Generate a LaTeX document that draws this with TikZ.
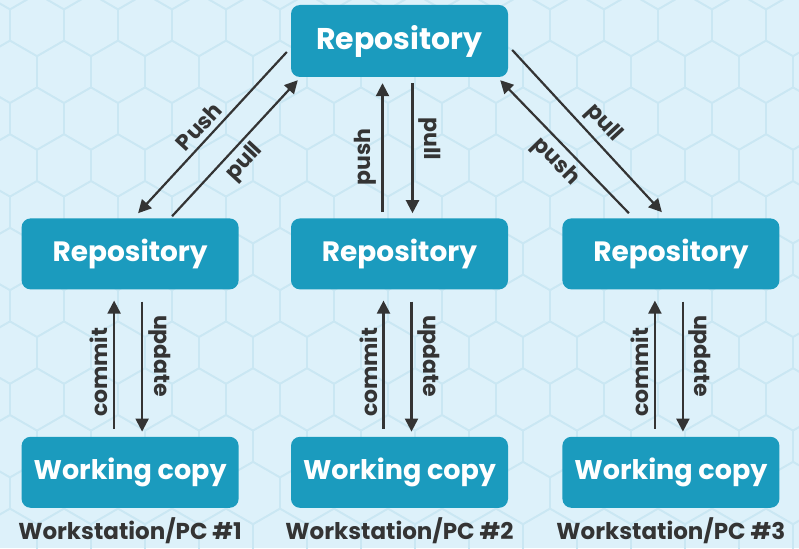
\documentclass[tikz,border=0pt]{standalone}
\usepackage{fontspec}
\setmainfont{Poppins}
\usetikzlibrary{arrows.meta,positioning}
\definecolor{boxteal}{RGB}{27,155,190}
\definecolor{bgblue}{RGB}{221,241,250}
\definecolor{hexline}{RGB}{202,231,243}
\definecolor{inkgray}{RGB}{52,52,52}
\tikzset{repo/.style={rectangle, rounded corners=9pt, fill=boxteal, text=white, minimum width=217pt, minimum height=71pt, font=\bfseries\fontsize{28}{30}\selectfont},
  flow/.style={draw=inkgray, line width=2.2pt, -{Triangle[width=13pt,length=13pt]}},
  lbl/.style={text=inkgray, inner sep=5pt, font=\bfseries\fontsize{22}{24}\selectfont},
  pclabel/.style={text=inkgray, inner sep=0pt, font=\bfseries\fontsize{23}{25}\selectfont},
  hexgrid/.style={draw=hexline, line width=1.6pt}}

\begin{document}
\begin{tikzpicture}[x=1pt, y=-1pt, node distance=147pt]
    \useasboundingbox (0,0) rectangle (799,548);
    \fill[bgblue] (0,0) rectangle (799,548);
    % honeycomb
    \begin{scope}
        \clip (0,0) rectangle (799,548);
        \foreach \j in {-1,...,12}
            \foreach \k in {-1,...,15}{
                \pgfmathsetmacro{\cx}{37+54*\k+27*mod(\j,2)}
                \pgfmathsetmacro{\cy}{25+46.8*\j}
                \draw[hexgrid] (\cx,\cy) +(30:31.2) -- +(90:31.2) -- +(150:31.2) -- +(210:31.2) -- +(270:31.2) -- +(330:31.2) -- cycle;
            }
    \end{scope}

    \node[repo, font=\bfseries\fontsize{30}{32}\selectfont, minimum height=72pt] (server) at (399.5,41) {Repository};

    \node[repo, below=141pt of server] (repoB) {Repository};
    \node[repo, left=52pt of repoB] (repoA) {Repository};
    \node[repo, right=54pt of repoB] (repoC) {Repository};

    \node[repo, below=147pt of repoA, font=\bfseries\fontsize{27}{29}\selectfont] (copyA) {Working copy};
    \node[repo, below=147pt of repoB, font=\bfseries\fontsize{27}{29}\selectfont] (copyB) {Working copy};
    \node[repo, below=147pt of repoC, font=\bfseries\fontsize{27}{29}\selectfont] (copyC) {Working copy};

    \node[pclabel, below=9pt of copyA] (pcA) {Workstation/PC \#1};
    \node[pclabel, below=9pt of copyB] (pcB) {Workstation/PC \#2};
    \node[pclabel, below=9pt of copyC] (pcC) {Workstation/PC \#3};

    \draw[flow] ([shift={(-4,11)}]server.west) -- ([shift={(8,-5)}]repoA.north) node[pos=0.52, sloped, above, lbl]{Push};
    \draw[flow] ([shift={(42,-2)}]repoA.north) -- ([shift={(7,3)}]server.south west) node[pos=0.48, sloped, below, lbl]{pull};

    \draw[flow] ([shift={(-17,-6)}]repoB.north) -- ([shift={(-17,6)}]server.south) node[pos=0.43, sloped, above, lbl]{push};
    \draw[flow] ([shift={(13,6)}]server.south) -- ([shift={(13,-5)}]repoB.north) node[pos=0.43, sloped, above, lbl]{pull};

    \draw[flow] ([shift={(4,9)}]server.east) -- ([shift={(-9,-6)}]repoC.north) node[pos=0.525, sloped, above, lbl]{pull};
    \draw[flow] ([shift={(-42,-5)}]repoC.north) -- ([shift={(-8,3)}]server.south east) node[pos=0.475, sloped, below, lbl]{push};

    \foreach \n in {A,B,C}{
        \draw[flow] ([shift={(-16,-8)}]copy\n.north) -- ([shift={(-16,11)}]repo\n.south) node[pos=0.44, sloped, above, lbl]{commit};
        \draw[flow] ([shift={(12,12)}]repo\n.south) -- ([shift={(12,-5)}]copy\n.north) node[pos=0.42, sloped, above, lbl]{update};
    }
\end{tikzpicture}
\end{document}
